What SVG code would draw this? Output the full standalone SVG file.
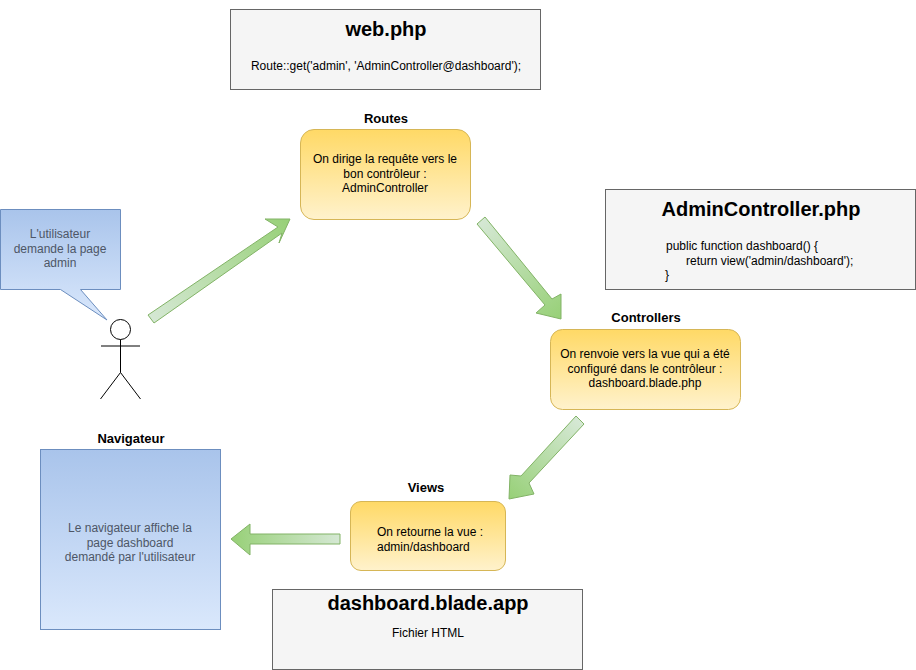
<svg xmlns="http://www.w3.org/2000/svg" width="916" height="670" viewBox="0 0 916 670">
<style>
text{font-family:"Liberation Sans",Arial,sans-serif;font-size:12px;fill:#000;text-anchor:middle}
.h{font-size:20px;font-weight:bold}
.t{font-size:13px;font-weight:bold}
.g{fill:#f5f5f5;stroke:#666;stroke-width:1}
.y{fill:url(#yg);stroke:#d6b656;stroke-width:1}
.b{fill:url(#bg);stroke:#6c8ebf;stroke-width:1}
.bt{fill:#4d5666}
.s{fill:none;stroke:#000;stroke-width:1}
.a{stroke:#82b366;stroke-width:1}
</style>
<defs>
<linearGradient id="yg" x1="0" y1="0" x2="0" y2="1"><stop offset="0" stop-color="#ffd966"/><stop offset="1" stop-color="#fff2cc"/></linearGradient>
<linearGradient id="bg" x1="0" y1="0" x2="0" y2="1"><stop offset="0" stop-color="#a9c4eb"/><stop offset="1" stop-color="#dae8fc"/></linearGradient>
<linearGradient id="a1" gradientUnits="userSpaceOnUse" x1="150" y1="318" x2="290" y2="219"><stop offset="0" stop-color="#d5e8d4"/><stop offset="1" stop-color="#97d077"/></linearGradient>
<linearGradient id="a2" gradientUnits="userSpaceOnUse" x1="482" y1="220" x2="561" y2="319"><stop offset="0" stop-color="#d5e8d4"/><stop offset="1" stop-color="#97d077"/></linearGradient>
<linearGradient id="a3" gradientUnits="userSpaceOnUse" x1="578" y1="421" x2="509" y2="499"><stop offset="0" stop-color="#d5e8d4"/><stop offset="1" stop-color="#97d077"/></linearGradient>
<linearGradient id="a4" gradientUnits="userSpaceOnUse" x1="340" y1="539" x2="231" y2="539"><stop offset="0" stop-color="#d5e8d4"/><stop offset="1" stop-color="#97d077"/></linearGradient>
</defs>
<g id="connectors">
<polygon class="a" fill="url(#a1)" points="148,315 278,227 265,219 290,219 279,243 282,233 154,323"/>
<polygon class="a" fill="url(#a2)" points="477,224 485,217 552,299 561,294 561,319 536,313 545,305"/>
<polygon class="a" fill="url(#a3)" points="576,416 584,424 529,483 534,494 509,499 510,475 521,476"/>
<polygon class="a" fill="url(#a4)" points="340,534 340,544 250,544 250,555 231,539 250,524 250,534"/>
</g>
<g id="web-php"><rect class="g" x="230.500" y="9.500" width="310" height="80"/><text class="h" x="386" y="36">web.php</text><text x="386" y="70">Route::get('admin', 'AdminController@dashboard');</text></g>
<g id="routes"><rect class="y" x="300.500" y="129.500" width="170" height="90" rx="13.500"/><text class="t" x="386" y="123">Routes</text><text x="385" y="163">On dirige la requête vers le</text><text x="385" y="177.500">bon contrôleur :</text><text x="385" y="192">AdminController</text></g>
<g id="admincontroller-php"><rect class="g" x="605.500" y="189.500" width="310" height="100"/><text class="h" x="761" y="216">AdminController.php</text><text x="666" y="250" style="text-anchor:start">public function dashboard() {</text><text x="686" y="265" style="text-anchor:start">return view('admin/dashboard');</text><text x="665" y="279" style="text-anchor:start">}</text></g>
<g id="controllers"><rect class="y" x="550.500" y="329.500" width="190" height="80" rx="12"/><text class="t" x="646" y="322">Controllers</text><text x="645" y="358">On renvoie vers la vue qui a été</text><text x="645" y="373">configuré dans le contrôleur :</text><text x="645" y="387">dashboard.blade.php</text></g>
<g id="views"><rect class="y" x="350.500" y="501.500" width="155" height="69" rx="10.500"/><text class="t" x="426" y="492">Views</text><text x="377" y="536" style="text-anchor:start">On retourne la vue :</text><text x="377" y="551" style="text-anchor:start">admin/dashboard</text></g>
<g id="dashboard-blade"><rect class="g" x="272.500" y="589.500" width="310" height="80"/><text class="h" x="428" y="610">dashboard.blade.app</text><text x="428" y="637">Fichier HTML</text></g>
<g id="navigateur"><rect class="b" x="40.500" y="449.500" width="180" height="180"/><text class="t" x="131" y="443">Navigateur</text><text class="bt" x="130" y="532">Le navigateur affiche la</text><text class="bt" x="130" y="547">page dashboard</text><text class="bt" x="130" y="561">demandé par l'utilisateur</text></g>
<g id="bubble"><path class="b" d="M0.500,209.500H120.500V289.500H80.500L107,320L60.500,289.500H0.500Z"/><text class="bt" x="60" y="238">L'utilisateur</text><text class="bt" x="60" y="253">demande la page</text><text class="bt" x="60" y="267">admin</text></g>
<g id="user"><circle class="s" cx="120.500" cy="329.500" r="10"/><path class="s" d="M120.500,339.500V372.500M101,346H140M120.500,372.500L100.500,399M120.500,372.500L140.500,399"/></g>
</svg>
